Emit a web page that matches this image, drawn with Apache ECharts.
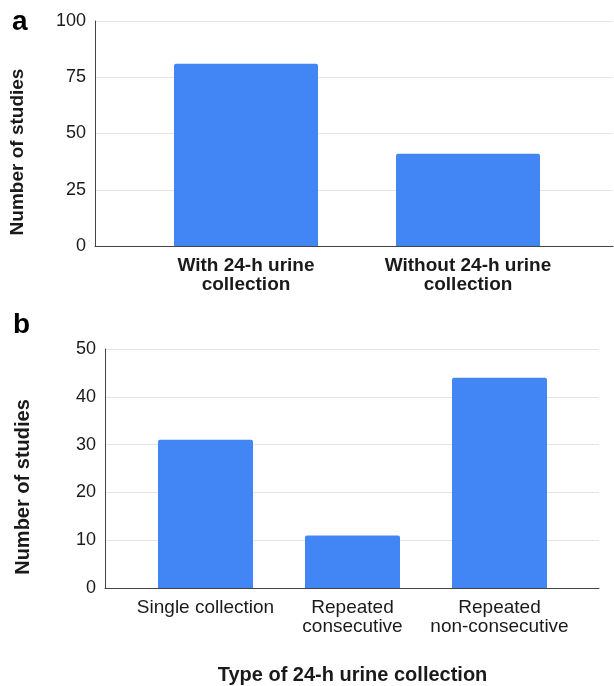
<!DOCTYPE html>
<html>
<head>
<meta charset="utf-8">
<script src="https://cdn.jsdelivr.net/npm/echarts@6/dist/echarts.min.js"></script>
<style>
html,body{margin:0;padding:0;background:#fff;}
#chart{width:614px;height:686px;}
</style>
</head>
<body>
<div id="chart"></div>
<script>
// Panel a
const categoriesA = ['With 24-h urine\ncollection', 'Without 24-h urine\ncollection'];
const valuesA = [81, 41];
const yTicksA = [0, 25, 50, 75, 100];
// Panel b
const categoriesB = ['Single collection', 'Repeated\nconsecutive', 'Repeated\nnon-consecutive'];
const valuesB = [31, 11, 44];
const yTicksB = [0, 10, 20, 30, 40, 50];

const yNameA = 'Number of studies';
const yNameB = 'Number of studies';
const xNameB = 'Type of 24-h urine collection';
const panelLabels = ['a', 'b'];

const FONT = '"Liberation Sans", Arial, Helvetica, sans-serif';
const BAR = '#4285F4';
const AXIS = '#444';
const GRID = '#e4e4e4';
const TXT = '#1a1a1a';

const chart = echarts.init(document.getElementById('chart'), null, {renderer: 'canvas'});

function bgY(gi, ticks) {
  return {
    type: 'value', gridIndex: gi,
    min: ticks[0], max: ticks[ticks.length - 1],
    interval: ticks[1] - ticks[0],
    axisLine: {show: true, lineStyle: {color: AXIS, width: 1}},
    axisTick: {show: false},
    axisLabel: {fontFamily: FONT, fontSize: 18, color: TXT, margin: 9},
    splitLine: {show: true, lineStyle: {color: GRID, width: 1}}
  };
}
function hidY(gi, ticks) {
  return {type: 'value', gridIndex: gi, min: ticks[0], max: ticks[ticks.length - 1], show: false};
}
function bgX(gi) {
  return {
    type: 'value', gridIndex: gi, min: 0, max: 1,
    axisLine: {show: true, lineStyle: {color: AXIS, width: 1}},
    axisTick: {show: false}, axisLabel: {show: false}, splitLine: {show: false}
  };
}

const option = {
  animation: false,
  backgroundColor: '#fff',
  grid: [
    {left: 95, top: 21, width: 518, height: 225, outerBoundsMode: 'none', containLabel: false},
    {left: 135, top: 21, width: 444, height: 225, outerBoundsMode: 'none', containLabel: false},
    {left: 105, top: 349, width: 494, height: 239, outerBoundsMode: 'none', containLabel: false},
    {left: 132, top: 349, width: 441, height: 239, outerBoundsMode: 'none', containLabel: false}
  ],
  xAxis: [
    bgX(0),
    {
      type: 'category', gridIndex: 1, data: categoriesA,
      axisLine: {show: false}, axisTick: {show: false},
      axisLabel: {fontFamily: FONT, fontSize: 19, fontWeight: 'bold', color: TXT, lineHeight: 19, margin: 10, interval: 0}
    },
    bgX(2),
    {
      type: 'category', gridIndex: 3, data: categoriesB,
      axisLine: {show: false}, axisTick: {show: false},
      axisLabel: {fontFamily: FONT, fontSize: 19, color: TXT, lineHeight: 19, margin: 10, interval: 0},
      name: xNameB, nameLocation: 'middle', nameGap: 77,
      nameTextStyle: {fontFamily: FONT, fontSize: 20, fontWeight: 'bold', color: TXT}
    }
  ],
  yAxis: [bgY(0, yTicksA), hidY(1, yTicksA), bgY(2, yTicksB), hidY(3, yTicksB)],
  series: [
    {
      type: 'bar', xAxisIndex: 1, yAxisIndex: 1, data: valuesA,
      barWidth: 144, itemStyle: {color: BAR, borderRadius: [2, 2, 0, 0]}
    },
    {
      type: 'bar', xAxisIndex: 3, yAxisIndex: 3, data: valuesB,
      barWidth: 95, itemStyle: {color: BAR, borderRadius: [2, 2, 0, 0]}
    }
  ],
  graphic: [
    {type: 'text', left: 12, top: 8, style: {text: panelLabels[0], font: 'bold 28px ' + FONT, fill: '#000'}},
    {type: 'text', left: 13, top: 311, style: {text: panelLabels[1], font: 'bold 28px ' + FONT, fill: '#000'}},
    {type: 'text', x: 18, y: 152, rotation: Math.PI / 2,
      style: {text: yNameA, font: 'bold 19px ' + FONT, fill: TXT, align: 'center', verticalAlign: 'middle'}},
    {type: 'text', x: 23, y: 487, rotation: Math.PI / 2,
      style: {text: yNameB, font: 'bold 20px ' + FONT, fill: TXT, align: 'center', verticalAlign: 'middle'}}
  ]
};
chart.setOption(option);
</script>
</body>
</html>
